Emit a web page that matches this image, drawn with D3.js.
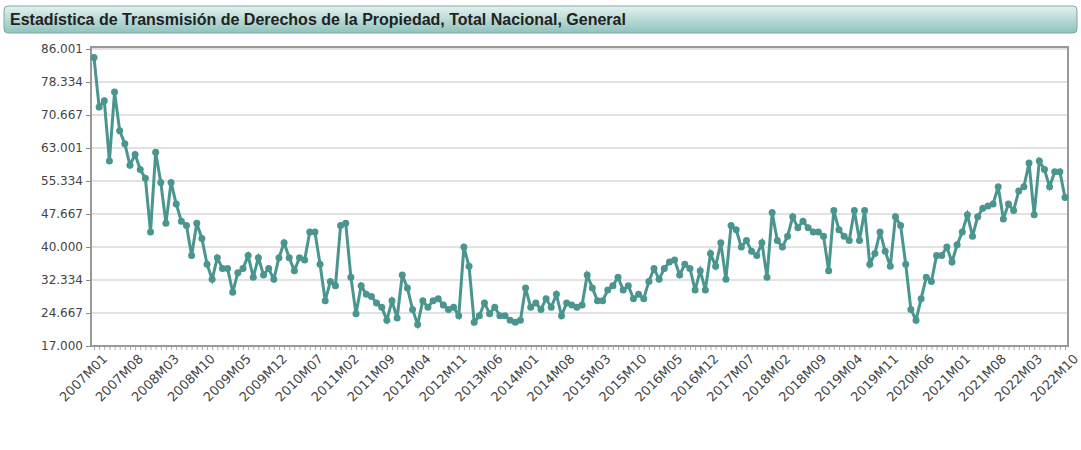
<!DOCTYPE html><html><head><meta charset="utf-8"><script src="https://cdn.jsdelivr.net/npm/d3@7"></script>
<style>body{margin:0;background:#fff;font-family:"DejaVu Sans",sans-serif}</style></head><body><svg id="c" width="1081" height="450"></svg>
<script>
const title="Estadística de Transmisión de Derechos de la Propiedad, Total Nacional, General";
const years=d3.range(2007,2023);
const values=[84,72.5,74,60,76,67,64,59,61.5,58,56,43.5,
62,55,45.5,55,50,46,45,38,45.5,42,36,32.5,
37.5,35,35,29.5,34,35,38,33,37.5,33.5,35,32.5,
37.5,41,37.5,34.5,37.5,37,43.5,43.5,36,27.5,32,31,
45,45.5,33,24.5,31,29,28.5,27,26,23,27.5,23.5,
33.5,30.5,25.5,22,27.5,26,27.5,28,26.5,25.5,26,24,
40,35.5,22.5,24,27,24.5,26,24,24,23,22.5,23,
30.5,26,27,25.5,28,26,29,24,27,26.5,26,26.5,
33.5,30.5,27.5,27.5,30,31,33,30,31,28,29,28,
32,35,32.5,35,36.5,37,33.5,36,35,30,34.5,30,
38.5,35.5,41,32.5,45,44,40,41.5,39,38,41,33,
48,41.5,40,42.5,47,44.5,46,44.5,43.5,43.5,42.5,34.5,
48.5,44,42.5,41.5,48.5,41.5,48.5,36,38.5,43.5,39,35.5,
47,45,36,25.5,23,28,33,32,38,38,40,36.5,
40.5,43.5,47.5,42.5,47,49,49.5,50,54,46.5,50,48.5,
53,54,59.5,47.5,60,58,54,57.5,57.5,51.5];
const categories=values.map((v,i)=>years[Math.floor(i/12)]+"M"+String(i%12+1).padStart(2,"0"));
const yTicks=[17,24.667,32.334,40,47.667,55.334,63.001,70.667,78.334,86.001];
const svg=d3.select("#c");
const defs=svg.append("defs");
const g1=defs.append("linearGradient").attr("id","tg").attr("x1",0).attr("y1",0).attr("x2",0).attr("y2",1);
g1.append("stop").attr("offset","0").attr("stop-color","#e4f1ef");
g1.append("stop").attr("offset","1").attr("stop-color","#8fc3bd");
svg.append("rect").attr("x",4).attr("y",6).attr("width",1073).attr("height",27).attr("rx",4).attr("fill","url(#tg)").attr("stroke","#7aa9a4");
svg.append("text").attr("x",10).attr("y",25).attr("font-size",16).attr("font-weight","bold").attr("font-family","Liberation Sans, Arial").attr("fill","#222").text(title);
const L=91,R=1068,T=47,B=346;
const x=d3.scalePoint().domain(categories).range([L+3,R-3]);
const y=d3.scaleLinear().domain([17,86.001]).range([B,T+2]);
const grid=svg.append("g");
yTicks.forEach(t=>grid.append("line").attr("x1",L).attr("x2",R).attr("y1",y(t)).attr("y2",y(t)).attr("stroke","#d8d8d8").attr("stroke-width",1.5));
const ya=svg.append("g").attr("transform",`translate(${L},0)`).call(d3.axisLeft(y).tickValues(yTicks).tickFormat(d=>d3.format(".3f")(d)).tickSize(5));
ya.select(".domain").remove();
ya.selectAll("line").attr("stroke","#888");
ya.selectAll("text").attr("font-size",12).attr("fill","#444").attr("font-family","DejaVu Sans");
const xa=svg.append("g").attr("transform",`translate(0,${B})`).call(d3.axisBottom(x).tickSize(4).tickFormat((d,i)=>i%7===0?d:""));
xa.select(".domain").remove();
xa.selectAll("line").attr("stroke","#aaa");
xa.selectAll("text").attr("font-size",13).attr("fill","#444").attr("font-family","DejaVu Sans").attr("text-anchor","end").attr("transform","translate(4,4) rotate(-45)").attr("dy","0.5em").attr("dx","0");
svg.append("rect").attr("x",L).attr("y",T).attr("width",R-L).attr("height",B-T).attr("fill","none").attr("stroke","#999").attr("stroke-width",2);
const line=d3.line().x((d,i)=>x(categories[i])).y(d=>y(d));
svg.append("path").datum(values).attr("d",line).attr("fill","none").attr("stroke","#4a968f").attr("stroke-width",3);
svg.selectAll("circle.p").data(values).enter().append("circle").attr("cx",(d,i)=>x(categories[i])).attr("cy",d=>y(d)).attr("r",3.5).attr("fill","#4a968f");
</script></body></html>
